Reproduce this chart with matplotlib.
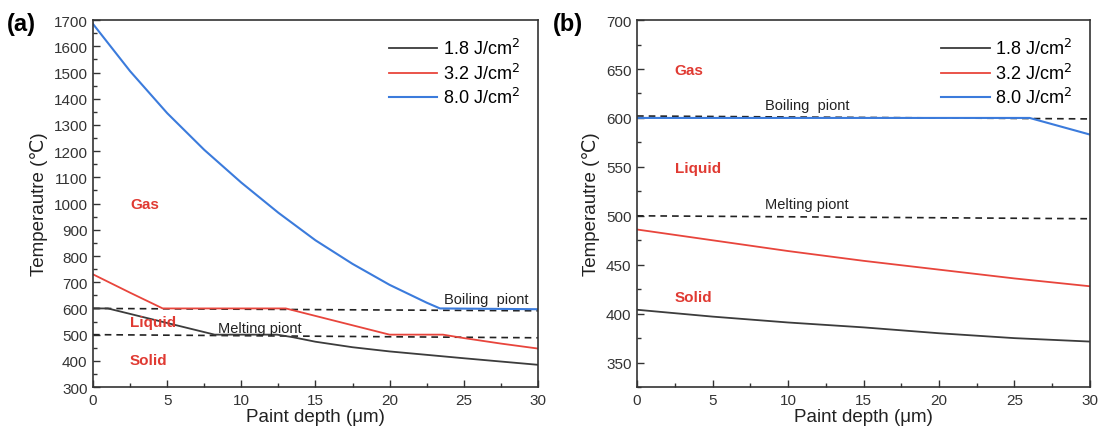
import matplotlib.pyplot as plt
from matplotlib.ticker import MultipleLocator

plt.rcParams['font.family'] = ['Liberation Sans', 'DejaVu Sans']

# panel (a) data: paint depth (um) vs temperature (C)
a_black_x = [0, 1.0, 8.2, 12.4, 13.5, 15, 17.5, 20, 25, 30]
a_black_y = [600, 600, 500, 500, 490, 473, 452, 436, 410, 385]
a_red_x = [0, 2.5, 4.7, 13.0, 20.0, 23.6, 25, 27.5, 30]
a_red_y = [730, 660, 600, 600, 500, 500, 487, 466, 447]
a_blue_x = [0, 2.5, 5, 7.5, 10, 12.5, 15, 17.5, 20, 22.5, 23.4, 30]
a_blue_y = [1685, 1505, 1345, 1205, 1080, 965, 860, 770, 690, 622, 600, 597]
a_boil = [600, 591]
a_melt = [500, 488]

# panel (b) data
b_black_x = [0, 5, 10, 15, 20, 25, 30]
b_black_y = [404, 397, 391, 386, 380, 375, 371.5]
b_red_x = [0, 5, 10, 15, 20, 25, 30]
b_red_y = [486, 475, 464, 454, 445, 436, 428]
b_blue_x = [0, 26, 30]
b_blue_y = [600, 600, 583]
b_boil = [602, 599]
b_melt = [500, 497]

labels = ['1.8 J/cm$^2$', '3.2 J/cm$^2$', '8.0 J/cm$^2$']
colors = ['#3c3c3c', '#e8453c', '#3b7bdc']
region_color = '#e03a32'

fig = plt.figure(figsize=(11.01, 4.39), dpi=100)
ax1 = fig.add_axes([0.0845, 0.116, 0.404, 0.836])
ax2 = fig.add_axes([0.5786, 0.116, 0.4114, 0.836])


def style(ax, ylim, ymajor, yminor):
    ax.set_xlim(0, 30)
    ax.set_ylim(*ylim)
    ax.xaxis.set_major_locator(MultipleLocator(5))
    ax.xaxis.set_minor_locator(MultipleLocator(2.5))
    ax.yaxis.set_major_locator(MultipleLocator(ymajor))
    ax.yaxis.set_minor_locator(MultipleLocator(yminor))
    ax.tick_params(which='both', direction='in', top=False, right=False,
                   labelsize=11, colors='#333333', width=1)
    ax.tick_params(which='major', length=5, pad=4)
    ax.tick_params(which='minor', length=3)
    for s in ax.spines.values():
        s.set_linewidth(1.2)
        s.set_color('#333333')
    ax.set_xlabel('Paint depth (μm)', fontsize=13.5, color='#222222', labelpad=1)
    ax.set_ylabel('Temperautre (℃)', fontsize=13.5, color='#222222', labelpad=4)


# panel (a)
ax1.plot([0, 30], a_boil, '--', color='#222222', lw=1.2, dashes=(4, 3))
ax1.plot([0, 30], a_melt, '--', color='#222222', lw=1.2, dashes=(4, 3))
ax1.plot(a_black_x, a_black_y, color=colors[0], lw=1.3, label=labels[0])
ax1.plot(a_red_x, a_red_y, color=colors[1], lw=1.3, label=labels[1])
ax1.plot(a_blue_x, a_blue_y, color=colors[2], lw=1.5, label=labels[2])
style(ax1, (300, 1700), 100, 50)
ax1.text(2.5, 998, 'Gas', color=region_color, fontsize=11, fontweight='bold', va='center')
ax1.text(2.5, 548, 'Liquid', color=region_color, fontsize=11, fontweight='bold', va='center')
ax1.text(2.5, 402, 'Solid', color=region_color, fontsize=11, fontweight='bold', va='center')
ax1.text(23.7, 636, 'Boiling  piont', fontsize=10.5, color='#222222', va='center')
ax1.text(8.4, 526, 'Melting piont', fontsize=10.5, color='#222222', va='center')
ax1.legend(loc='upper right', frameon=False, fontsize=13, handlelength=2.7,
           handletextpad=0.3, labelspacing=0.25, borderaxespad=0.6)
fig.text(0.006, 0.93, '(a)', fontsize=17, fontweight='bold')

# panel (b)
ax2.plot([0, 30], b_boil, '--', color='#222222', lw=1.2, dashes=(4, 3))
ax2.plot([0, 30], b_melt, '--', color='#222222', lw=1.2, dashes=(4, 3))
ax2.plot(b_black_x, b_black_y, color=colors[0], lw=1.3, label=labels[0])
ax2.plot(b_red_x, b_red_y, color=colors[1], lw=1.3, label=labels[1])
ax2.plot(b_blue_x, b_blue_y, color=colors[2], lw=1.5, label=labels[2])
style(ax2, (325, 700), 50, 25)
ax2.text(2.5, 649, 'Gas', color=region_color, fontsize=11, fontweight='bold', va='center')
ax2.text(2.5, 549, 'Liquid', color=region_color, fontsize=11, fontweight='bold', va='center')
ax2.text(2.5, 417, 'Solid', color=region_color, fontsize=11, fontweight='bold', va='center')
ax2.text(8.5, 613, 'Boiling  piont', fontsize=10.5, color='#222222', va='center')
ax2.text(8.5, 512, 'Melting piont', fontsize=10.5, color='#222222', va='center')
ax2.legend(loc='upper right', frameon=False, fontsize=13, handlelength=2.7,
           handletextpad=0.3, labelspacing=0.25, borderaxespad=0.6)
fig.text(0.502, 0.93, '(b)', fontsize=17, fontweight='bold')

fig.savefig('out.png', dpi=100)
